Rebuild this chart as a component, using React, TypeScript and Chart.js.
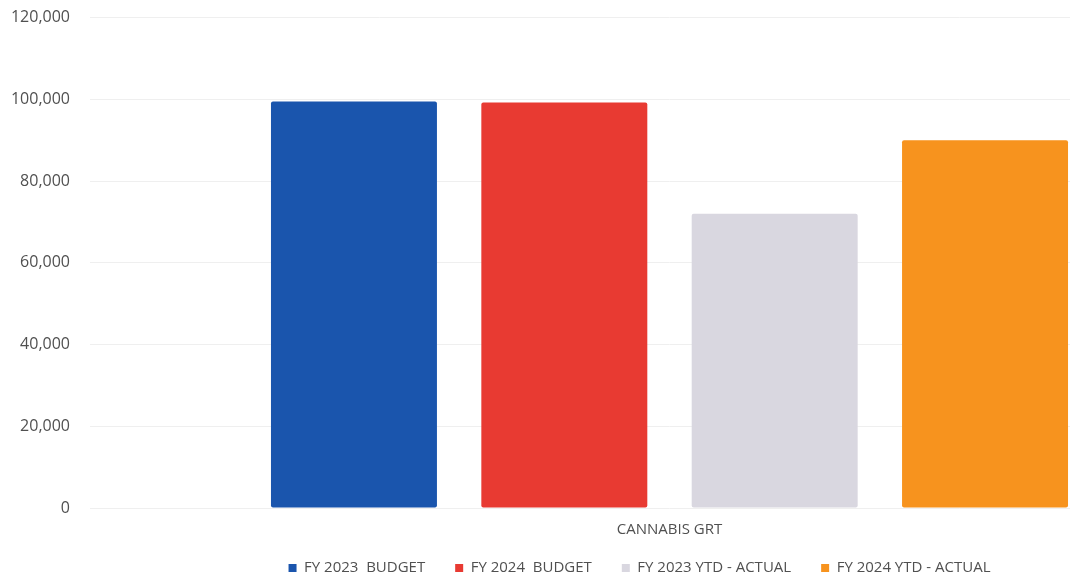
import React, { useEffect, useRef } from "react";
import { Chart, registerables } from "chart.js";

Chart.register(...registerables);

const categories = ["CANNABIS GRT"];
const seriesNames = ["FY 2023  BUDGET", "FY 2024  BUDGET", "FY 2023 YTD - ACTUAL", "FY 2024 YTD - ACTUAL"];
const fy2023Budget = [99500];
const fy2024Budget = [99200];
const fy2023Actual = [72000];
const fy2024Actual = [90000];
const seriesColors = ["#1a55ad", "#e83a32", "#d9d7e0", "#f7931e"];
const yTicks = [0, 20000, 40000, 60000, 80000, 100000, 120000];

const CANVAS_TOP = -12;
const LEGEND_PAD = 30;
const LEGEND_FONT = 15;

export default function App() {
  const ref = useRef<HTMLCanvasElement | null>(null);
  useEffect(() => {
    if (!ref.current) return;
    const values = [fy2023Budget, fy2024Budget, fy2023Actual, fy2024Actual];
    const font = "'Open Sans', sans-serif";
    const legendShift = {
      id: "legendShift",
      afterLayout(chart: any) {
        const lg = chart.legend;
        if (!lg) return;
        const dx = 9;
        lg.left += dx;
        lg.right += dx;
        const h = lg.bottom - lg.top;
        const targetCenter = 568 - CANVAS_TOP;
        lg.top = targetCenter - LEGEND_PAD - LEGEND_FONT / 2;
        lg.bottom = lg.top + h;
      },
    };
    const chart = new Chart(ref.current, {
      type: "bar",
      data: {
        labels: categories,
        datasets: seriesNames.map((name, i) => ({
          label: name,
          data: values[i],
          backgroundColor: seriesColors[i],
          borderRadius: 2,
          borderSkipped: false,
          categoryPercentage: 0.726,
          barPercentage: 0.789,
        })),
      },
      plugins: [legendShift],
      options: {
        animation: false,
        responsive: false,
        maintainAspectRatio: false,
        layout: { padding: { left: 12, top: 0, right: 0, bottom: 0 } },
        plugins: {
          tooltip: { enabled: false },
          legend: {
            position: "bottom",
            labels: {
              boxWidth: 8,
              boxHeight: 8,
              padding: LEGEND_PAD,
              color: "#505050",
              font: { family: font, size: LEGEND_FONT },
            },
          },
        },
        scales: {
          x: {
            grid: { display: false, drawTicks: false },
            border: { display: false },
            ticks: { padding: 13, color: "#505050", font: { family: font, size: 15 } },
          },
          y: {
            min: 0,
            max: 120000,
            afterFit: (axis: any) => {
              axis.width = 78;
            },
            afterBuildTicks: (axis: any) => {
              axis.ticks = yTicks.map((v) => ({ value: v }));
            },
            grid: { color: "#efefef", drawTicks: false },
            border: { display: false },
            ticks: {
              padding: 20,
              color: "#505050",
              font: { family: font, size: 16 },
              callback: (v: any) => Number(v).toLocaleString("en-US"),
            },
          },
        },
      },
    });
    return () => chart.destroy();
  }, []);
  return (
    <div style={{ position: "fixed", left: 0, top: 0, width: 1070, height: 583, overflow: "hidden", background: "#fff" }}>
      <canvas
        ref={ref}
        width={1249}
        height={619}
        style={{ display: "block", position: "absolute", left: 0, top: CANVAS_TOP, width: 1249, height: 619 }}
      />
    </div>
  );
}
